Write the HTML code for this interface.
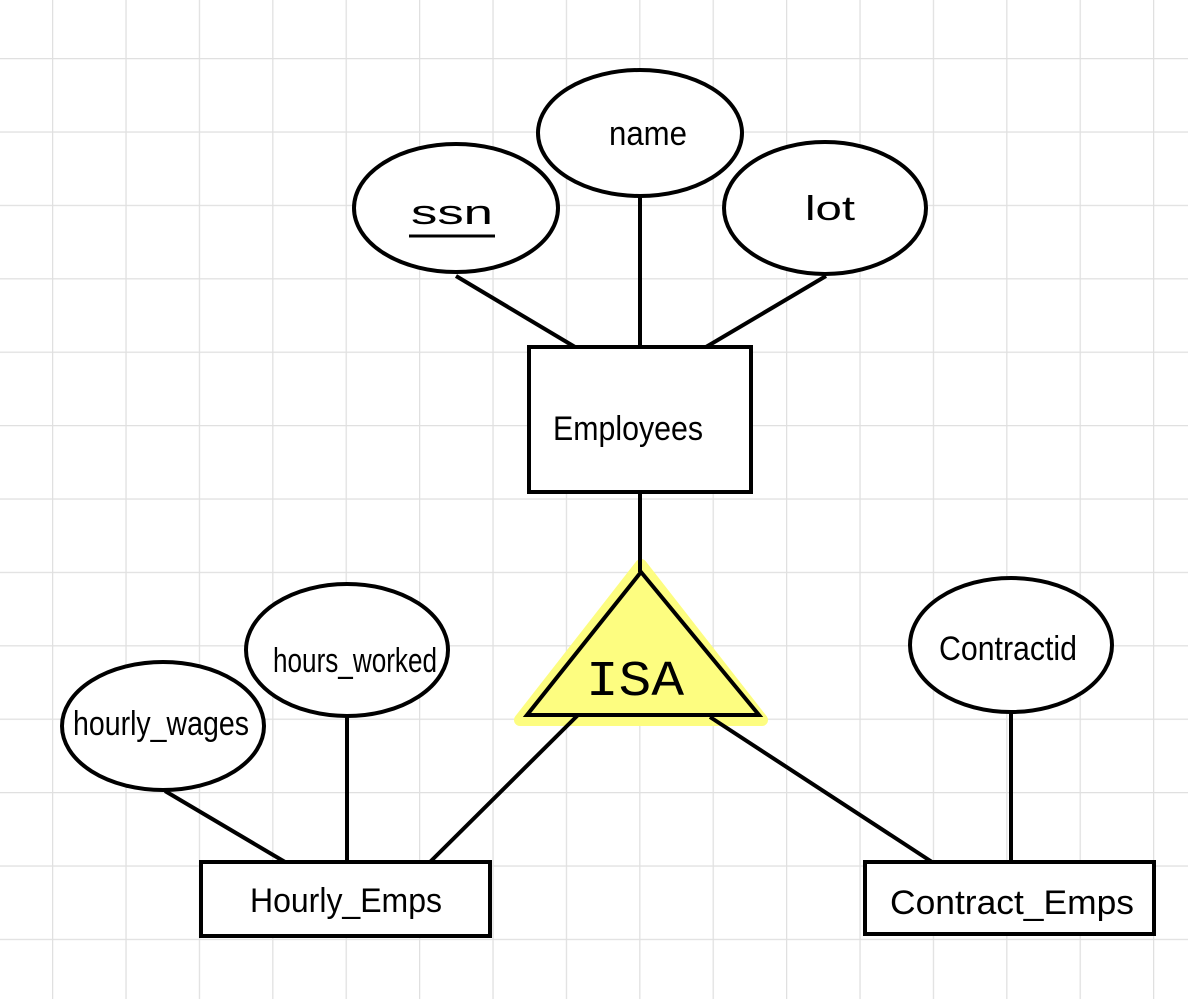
<!DOCTYPE html>
<html><head><meta charset="utf-8"><style>html,body{margin:0;padding:0;background:#fff}svg{display:block}</style></head><body>
<svg width="1188" height="999" viewBox="0 0 1188 999" xmlns="http://www.w3.org/2000/svg">
<defs><pattern id="g" x="52" y="58" width="73.4" height="73.4" patternUnits="userSpaceOnUse"><path d="M0 0H73.4M0 0V73.4" stroke="#e0e0e0" stroke-width="2.5" fill="none"/></pattern></defs>
<rect x="-30" y="-30" width="1250" height="1060" fill="url(#g)"/>
<polygon points="641,565 520,720 762,720" fill="#fdfd80" stroke="#fdfd80" stroke-width="12" stroke-linejoin="round"/>
<g stroke="#000" stroke-width="4" fill="none">
<line x1="456" y1="276" x2="575" y2="347"/><line x1="640" y1="196" x2="640" y2="347"/><line x1="826" y1="276" x2="706" y2="347"/>
<line x1="640" y1="492" x2="640" y2="572"/>
<line x1="165" y1="791" x2="285" y2="862"/><line x1="347" y1="716" x2="347" y2="862"/>
<line x1="578" y1="715" x2="430" y2="862"/><line x1="710" y1="717" x2="932" y2="862"/><line x1="1011" y1="712" x2="1011" y2="862"/>
<ellipse cx="456" cy="208" rx="102" ry="64" fill="#fff"/>
<ellipse cx="640" cy="133" rx="102" ry="63" fill="#fff"/>
<ellipse cx="825" cy="208" rx="101" ry="66" fill="#fff"/>
<rect x="529" y="347" width="222" height="145" fill="#fff"/>
<polygon points="641,572 527,715 759,715"/>
<ellipse cx="347" cy="650" rx="101" ry="66" fill="#fff"/>
<ellipse cx="163" cy="726" rx="101" ry="64" fill="#fff"/>
<ellipse cx="1011" cy="645" rx="101" ry="67" fill="#fff"/>
<rect x="201" y="862" width="289" height="74" fill="#fff"/>
<rect x="865" y="862" width="289" height="72" fill="#fff"/>
<line x1="409" y1="236" x2="495" y2="236" stroke-width="3"/>
</g>
<g font-family="Liberation Sans Narrow, Liberation Sans, sans-serif" font-size="34" fill="#000" text-anchor="middle">
<text x="452" y="224" textLength="82" lengthAdjust="spacingAndGlyphs">ssn</text>
<text x="648" y="145" textLength="78" lengthAdjust="spacingAndGlyphs">name</text>
<text x="830" y="220" textLength="50" lengthAdjust="spacingAndGlyphs">lot</text>
<text x="628" y="440" textLength="150" lengthAdjust="spacingAndGlyphs">Employees</text>
<text x="635" y="695" font-size="50" font-family="Liberation Mono, monospace" textLength="98" lengthAdjust="spacingAndGlyphs">ISA</text>
<text x="355" y="672" textLength="164" lengthAdjust="spacingAndGlyphs">hours_worked</text>
<text x="161" y="735" textLength="176" lengthAdjust="spacingAndGlyphs">hourly_wages</text>
<text x="1008" y="660" textLength="138" lengthAdjust="spacingAndGlyphs">Contractid</text>
<text x="346" y="912" textLength="192" lengthAdjust="spacingAndGlyphs">Hourly_Emps</text>
<text x="1012" y="914" textLength="244" lengthAdjust="spacingAndGlyphs">Contract_Emps</text>
</g>
</svg>
</body></html>
